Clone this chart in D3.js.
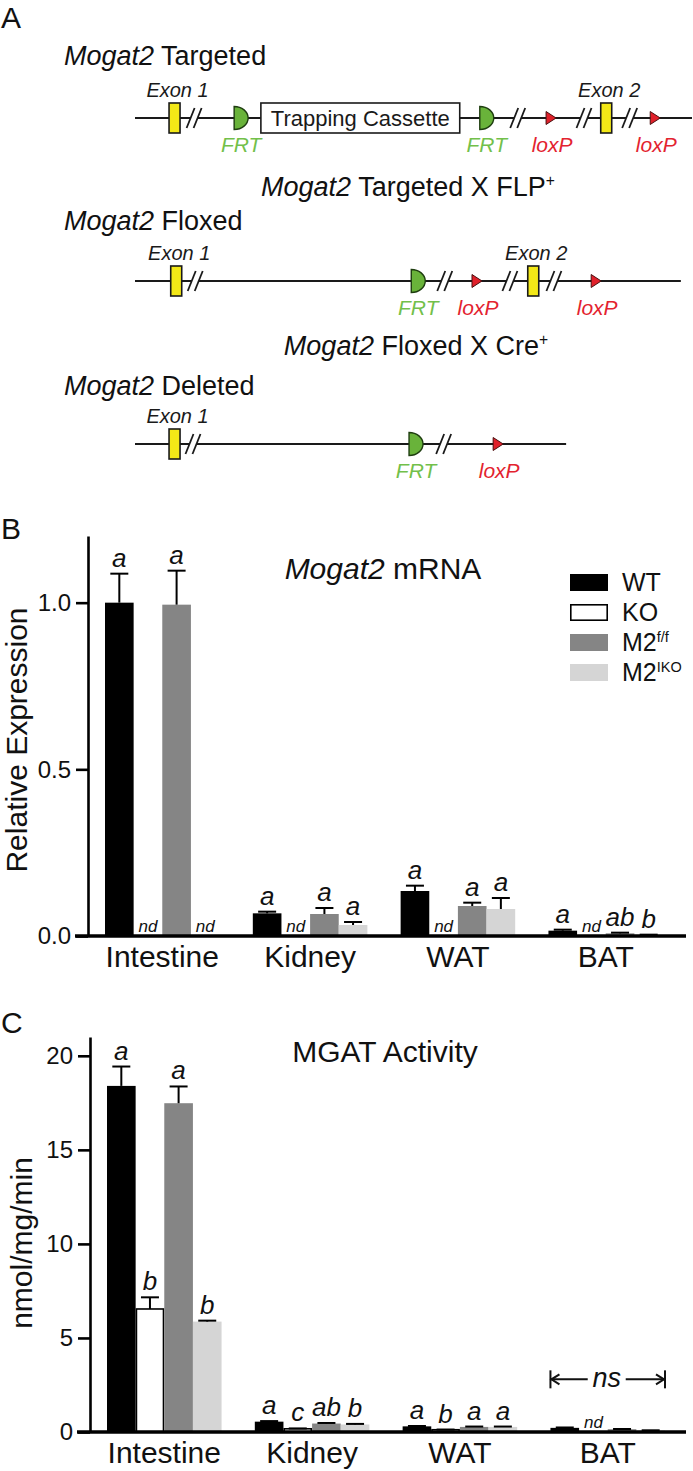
<!DOCTYPE html>
<html><head><meta charset="utf-8">
<script src="https://cdn.jsdelivr.net/npm/d3@7"></script>
<style>body{margin:0;background:#fff}</style>
</head><body>
<svg id="fig" width="693" height="1471" xmlns="http://www.w3.org/2000/svg"></svg>
<script>
// ================= DATA =================
const tissues = ["Intestine", "Kidney", "WAT", "BAT"];
const genotypes = ["WT", "KO", "M2f/f", "M2IKO"];

// Panel B: Mogat2 mRNA (relative expression); null = not detected
const mrnaWT = [1.00, 0.068, 0.135, 0.016];
const mrnaWTErr = [0.087, 0.005, 0.016, 0.003];
const mrnaKO = [null, null, null, null];
const mrnaKOErr = [0, 0, 0, 0];
const mrnaFF = [0.994, 0.066, 0.090, 0.008];
const mrnaFFErr = [0.102, 0.018, 0.010, 0.002];
const mrnaIKO = [null, 0.033, 0.081, 0.003];
const mrnaIKOErr = [0, 0.009, 0.033, 0.001];
const mrnaWTLab = ["a", "a", "a", "a"];
const mrnaKOLab = ["nd", "nd", "nd", "nd"];
const mrnaFFLab = ["a", "a", "a", "ab"];
const mrnaIKOLab = ["nd", "a", "a", "b"];
const mrnaTicks = [0, 0.5, 1.0];

// Panel C: MGAT activity (nmol/mg/min)
const actWT = [18.40, 0.55, 0.30, 0.22];
const actWTErr = [1.03, 0.03, 0.02, 0.02];
const actKO = [6.54, 0.17, 0.12, null];
const actKOErr = [0.62, 0.02, 0.01, 0];
const actFF = [17.48, 0.45, 0.27, 0.15];
const actFFErr = [0.89, 0.03, 0.02, 0.01];
const actIKO = [5.87, 0.40, 0.27, 0.08];
const actIKOErr = [0.05, 0.03, 0.02, 0.01];
const actWTLab = ["a", "a", "a", ""];
const actKOLab = ["b", "c", "b", "nd"];
const actFFLab = ["a", "ab", "a", ""];
const actIKOLab = ["b", "b", "a", ""];
const actTicks = [0, 5, 10, 15, 20];

// Panel A: allele schematics (positions in track units 0-100)
const targetedElems = [
  {type: "exon", pos: 7.1, label: "Exon 1"},
  {type: "break", pos: 10.7},
  {type: "frt", pos: 17.8},
  {type: "cassette", pos: 22.6, end: 58.3, label: "Trapping Cassette"},
  {type: "frt", pos: 61.9},
  {type: "break", pos: 68.8},
  {type: "loxp", pos: 73.8},
  {type: "break", pos: 80.7},
  {type: "exon", pos: 84.6, label: "Exon 2"},
  {type: "break", pos: 88.9},
  {type: "loxp", pos: 92.5}
];
const floxedElems = [
  {type: "exon", pos: 7.4, label: "Exon 1"},
  {type: "break", pos: 10.9},
  {type: "frt", pos: 49.6},
  {type: "break", pos: 55.7},
  {type: "loxp", pos: 60.5},
  {type: "break", pos: 67.4},
  {type: "exon", pos: 71.5, label: "Exon 2"},
  {type: "break", pos: 75.3},
  {type: "loxp", pos: 81.9}
];
const deletedElems = [
  {type: "exon", pos: 7.1, label: "Exon 1"},
  {type: "break", pos: 10.5},
  {type: "frt", pos: 49.2},
  {type: "break", pos: 55.5},
  {type: "loxp", pos: 64.3}
];
const trackEnds = [100, 98, 77.4];

// ================= DRAWING =================
const FONT = '"Liberation Sans", Arial, Helvetica, sans-serif';
const svg = d3.select("#fig");
svg.append("rect").attr("width", 693).attr("height", 1471).attr("fill", "#fff");

function label(g, x, y, parts, size, anchor, color) {
  const t = g.append("text").attr("x", x).attr("y", y)
    .attr("font-family", FONT).attr("font-size", size)
    .attr("text-anchor", anchor || "start").attr("fill", color || "#111");
  parts.forEach(p => {
    const ts = t.append("tspan").text(p.t);
    if (p.i) ts.attr("font-style", "italic");
    if (p.sup) ts.attr("font-size", size * 0.58).attr("dy", -size * 0.38);
  });
  return t;
}

// Panel letters
label(svg, 1, 28, [{t: "A"}], 30);
label(svg, 1, 539, [{t: "B"}], 30);
label(svg, 1, 1033, [{t: "C"}], 30);

// ---------- Panel A ----------
const gA = svg.append("g");
const track = d3.scaleLinear().domain([0, 100]).range([135, 692]);
const FRT_FILL = "#69b33a", FRT_TXT = "#72c04a", LOX_FILL = "#e0202a", LOX_TXT = "#e3232f", EXON_FILL = "#f3e817";

function drawTrack(elems, end, cy) {
  const g = gA.append("g");
  g.append("line").attr("x1", track(0)).attr("x2", track(end)).attr("y1", cy).attr("y2", cy)
    .attr("stroke", "#1a1a1a").attr("stroke-width", 2.2);
  elems.filter(e => e.type === "break").forEach(e => {
    const cx = track(e.pos);
    g.append("polygon").attr("points", `${cx-8},${cy+10} ${cx},${cy-10} ${cx+7},${cy-10} ${cx-1},${cy+10}`).attr("fill", "#fff");
    [[-8, 0], [-1, 7]].forEach(([a, b]) => g.append("line")
      .attr("x1", cx + a).attr("y1", cy + 10).attr("x2", cx + b).attr("y2", cy - 10)
      .attr("stroke", "#1a1a1a").attr("stroke-width", 1.8));
  });
  elems.forEach(e => {
    const x0 = track(e.pos);
    if (e.type === "exon") {
      g.append("rect").attr("x", x0 - 5.5).attr("y", cy - 15).attr("width", 11).attr("height", 30)
        .attr("fill", EXON_FILL).attr("stroke", "#1a1a1a").attr("stroke-width", 1.6);
      label(g, x0 + 3, cy - 21, [{t: e.label, i: true}], 20, "middle", "#1a1a1a");
    } else if (e.type === "frt") {
      g.append("path").attr("d", `M${x0},${cy-11.5} A14,11.5 0 0 1 ${x0},${cy+11.5} Z`)
        .attr("fill", FRT_FILL).attr("stroke", "#1e3d10").attr("stroke-width", 1.4);
      label(g, x0 + 7, cy + 34, [{t: "FRT", i: true}], 21, "middle", FRT_TXT);
    } else if (e.type === "loxp") {
      g.append("path").attr("d", `M${x0},${cy-6.5} L${x0+10},${cy} L${x0},${cy+6.5} Z`)
        .attr("fill", LOX_FILL).attr("stroke", "#4a1010").attr("stroke-width", 1);
      label(g, x0 + 6, cy + 34, [{t: "loxP", i: true}], 21, "middle", LOX_TXT);
    } else if (e.type === "cassette") {
      const x1 = track(e.end);
      g.append("rect").attr("x", x0).attr("y", cy - 15).attr("width", x1 - x0).attr("height", 30)
        .attr("fill", "#fff").attr("stroke", "#1a1a1a").attr("stroke-width", 1.6);
      label(g, (x0 + x1) / 2, cy + 8, [{t: e.label}], 22, "middle", "#1a1a1a");
    }
  });
}

label(gA, 64, 65, [{t: "Mogat2", i: true}, {t: " Targeted"}], 27);
drawTrack(targetedElems, trackEnds[0], 118);
label(gA, 408, 196, [{t: "Mogat2", i: true}, {t: " Targeted X FLP"}, {t: "+", sup: true}], 27, "middle");
label(gA, 64, 230, [{t: "Mogat2", i: true}, {t: " Floxed"}], 27);
drawTrack(floxedElems, trackEnds[1], 281);
label(gA, 416, 355, [{t: "Mogat2", i: true}, {t: " Floxed X Cre"}, {t: "+", sup: true}], 27, "middle");
label(gA, 64, 395, [{t: "Mogat2", i: true}, {t: " Deleted"}], 27);
drawTrack(deletedElems, trackEnds[2], 444);

// ---------- Bar panels ----------
const FILLS = ["#000000", "#ffffff", "#858585", "#d5d5d5"];

function barPanel(o) {
  const g = svg.append("g");
  const y = d3.scaleLinear().domain([0, o.yMax]).range([o.y0, o.yTop]);
  const x = d3.scaleBand().domain(tissues).range([o.axisX, o.axisX + 592])
    .paddingInner(0.225).paddingOuter(0.115);
  const xs = d3.scaleBand().domain(genotypes).range([0, x.bandwidth()]);
  const bw = xs.bandwidth();

  // bars
  o.series.forEach((s, j) => {
    tissues.forEach((t, i) => {
      const v = s.mean[i];
      const bx = x(t) + xs(genotypes[j]);
      const cx = bx + bw / 2;
      if (v !== null) {
        const isKO = j === 1;
        g.append("rect")
          .attr("x", bx + (isKO ? 0.8 : 0)).attr("width", bw - (isKO ? 1.6 : 0))
          .attr("y", y(v)).attr("height", Math.max(0, y(0) - y(v)))
          .attr("fill", FILLS[j]).attr("stroke", isKO ? "#000" : "none").attr("stroke-width", 1.6);
        const e = s.err[i];
        if (e > 0) {
          g.append("line").attr("x1", cx).attr("x2", cx).attr("y1", y(v)).attr("y2", y(v + e))
            .attr("stroke", "#000").attr("stroke-width", 2);
          g.append("line").attr("x1", cx - 9).attr("x2", cx + 9).attr("y1", y(v + e)).attr("y2", y(v + e))
            .attr("stroke", "#000").attr("stroke-width", 2);
        }
      }
      const lab = s.lab[i];
      if (lab === "nd") {
        label(g, cx, o.y0 - 4, [{t: "nd", i: true}], 17, "middle", "#111");
      } else if (lab) {
        const top = v === null ? 0 : v + s.err[i];
        label(g, cx, y(top) - 7, [{t: lab, i: true}], 26, "middle", "#111");
      }
    });
  });

  // y axis
  const ya = g.append("g").attr("transform", `translate(${o.axisX},0)`)
    .call(d3.axisLeft(y).tickValues(o.ticks).tickFormat(o.fmt).tickSize(12).tickPadding(5).tickSizeOuter(0));
  ya.attr("font-family", FONT).attr("font-size", 24);
  ya.select(".domain").attr("stroke", "#000").attr("stroke-width", 2.6);
  ya.selectAll(".tick line").attr("stroke", "#000").attr("stroke-width", 2.6);
  ya.selectAll(".tick text").attr("fill", "#111");

  // x axis
  const xa = g.append("g").attr("transform", `translate(0,${o.y0})`)
    .call(d3.axisBottom(x).tickSize(0));
  xa.select(".domain").remove();
  xa.attr("font-family", FONT).attr("font-size", 30);
  xa.selectAll(".tick text").attr("y", 31).attr("dy", 0).attr("fill", "#111");
  g.append("line").attr("x1", o.axisX - 13).attr("x2", 686).attr("y1", o.y0).attr("y2", o.y0)
    .attr("stroke", "#000").attr("stroke-width", 3.6);

  // y title
  label(g, 0, 0, o.yTitle, 30, "middle", "#111")
    .attr("transform", `translate(${o.yTitleX},${o.yTitleY}) rotate(-90)`);
  // chart title
  label(g, o.titleX, o.titleY, o.title, 30, "middle", "#111");
  return {g, x, y};
}

const B = barPanel({
  axisX: 88, y0: 936, yTop: 536, yMax: 1.2, ticks: mrnaTicks, fmt: d3.format(".1f"),
  series: [
    {mean: mrnaWT, err: mrnaWTErr, lab: mrnaWTLab},
    {mean: mrnaKO, err: mrnaKOErr, lab: mrnaKOLab},
    {mean: mrnaFF, err: mrnaFFErr, lab: mrnaFFLab},
    {mean: mrnaIKO, err: mrnaIKOErr, lab: mrnaIKOLab}
  ],
  yTitle: [{t: "Relative Expression"}], yTitleX: 27, yTitleY: 740,
  title: [{t: "Mogat2", i: true}, {t: " mRNA"}], titleX: 383, titleY: 579
});

// legend
const legendNames = [[{t: "WT"}], [{t: "KO"}], [{t: "M2"}, {t: "f/f", sup: true}], [{t: "M2"}, {t: "IKO", sup: true}]];
const legRow = d3.scaleBand().domain(genotypes).range([574, 694]);
genotypes.forEach((gname, j) => {
  const ty = legRow(gname);
  const isKO = j === 1;
  svg.append("rect").attr("x", 570 + (isKO ? 0.8 : 0)).attr("y", ty + (isKO ? 0.8 : 0))
    .attr("width", 38 - (isKO ? 1.6 : 0)).attr("height", 17 - (isKO ? 1.6 : 0))
    .attr("fill", FILLS[j]).attr("stroke", isKO ? "#000" : "none").attr("stroke-width", 1.6);
  label(svg, 622, ty + 17, legendNames[j], 25, "start", "#111");
});

const C = barPanel({
  axisX: 90, y0: 1432, yTop: 1037, yMax: 21, ticks: actTicks, fmt: d3.format("d"),
  series: [
    {mean: actWT, err: actWTErr, lab: actWTLab},
    {mean: actKO, err: actKOErr, lab: actKOLab},
    {mean: actFF, err: actFFErr, lab: actFFLab},
    {mean: actIKO, err: actIKOErr, lab: actIKOLab}
  ],
  yTitle: [{t: "nmol/mg/min"}], yTitleX: 32, yTitleY: 1243,
  title: [{t: "MGAT Activity"}], titleX: 385, titleY: 1062
});

// "ns" bracket over BAT in panel C
(function () {
  const x0 = C.x("BAT"), x1 = C.x("BAT") + C.x.bandwidth();
  const yy = C.y(2.8);
  const mid = (x0 + x1) / 2;
  const gN = C.g.append("g").attr("stroke", "#111").attr("stroke-width", 2).attr("fill", "none");
  gN.append("line").attr("x1", x0).attr("x2", x0).attr("y1", yy - 9).attr("y2", yy + 9);
  gN.append("line").attr("x1", x1).attr("x2", x1).attr("y1", yy - 9).attr("y2", yy + 9);
  gN.append("line").attr("x1", x0).attr("x2", mid - 20).attr("y1", yy).attr("y2", yy);
  gN.append("line").attr("x1", mid + 18).attr("x2", x1).attr("y1", yy).attr("y2", yy);
  gN.append("path").attr("d", `M${x0+9},${yy-5} L${x0+1},${yy} L${x0+9},${yy+5}`);
  gN.append("path").attr("d", `M${x1-9},${yy-5} L${x1-1},${yy} L${x1-9},${yy+5}`);
  label(C.g, mid - 1, yy + 8, [{t: "ns", i: true}], 27, "middle", "#111");
})();
</script>
</body></html>
